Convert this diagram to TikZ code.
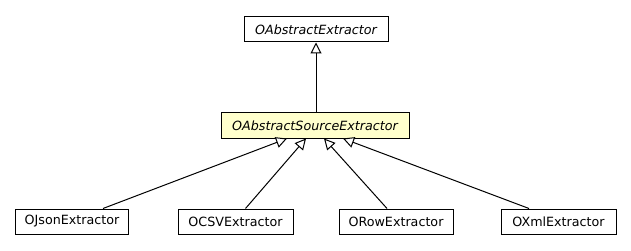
\documentclass[tikz,border=0pt]{standalone}
\usepackage{fontspec}
\setmainfont{DejaVu Sans}
\usetikzlibrary{arrows.meta}
\definecolor{abstractfill}{HTML}{FFFFCC}
\begin{document}
\begin{tikzpicture}[x=1pt,y=-1pt,
  classbox/.style={draw=black, line width=1pt, fill=white, minimum height=25pt,
    inner sep=0pt, font=\fontsize{12.7}{15}\selectfont},
  abstractbox/.style={classbox, font=\fontsize{12.7}{15}\selectfont\itshape},
  inherits/.style={draw=black, line width=1pt,
    -{Triangle[open, length=11pt, width=11pt, fill=white]}}
]
\useasboundingbox (0,0) rectangle (631,251);

% class boxes
\node[abstractbox, minimum width=144pt] (base) at (316,29.5) {OAbstractExtractor};
\node[abstractbox, fill=abstractfill, minimum width=188pt] (src) at (315,125.5) {OAbstractSourceExtractor};
\node[classbox, minimum width=113pt] (json) at (72,221.5) {OJsonExtractor};
\node[classbox, minimum width=115pt] (csv) at (235.5,221.5) {OCSVExtractor};
\node[classbox, minimum width=114pt] (row) at (396,221.5) {ORowExtractor};
\node[classbox, minimum width=115pt] (xml) at (558.5,221.5) {OXmlExtractor};

% generalization arrows
\draw[inherits] ([xshift=1pt]src.north) -- ([xshift=1pt]src.north |- base.south);
\draw[inherits] ([xshift=31pt]json.north) -- ([xshift=-28pt]src.south);
\draw[inherits] ([xshift=10pt]csv.north) -- ([xshift=-9pt]src.south);
\draw[inherits] ([xshift=-9pt]row.north) -- ([xshift=9pt]src.south);
\draw[inherits] ([xshift=-29.5pt]xml.north) -- ([xshift=28pt]src.south);
\end{tikzpicture}
\end{document}
